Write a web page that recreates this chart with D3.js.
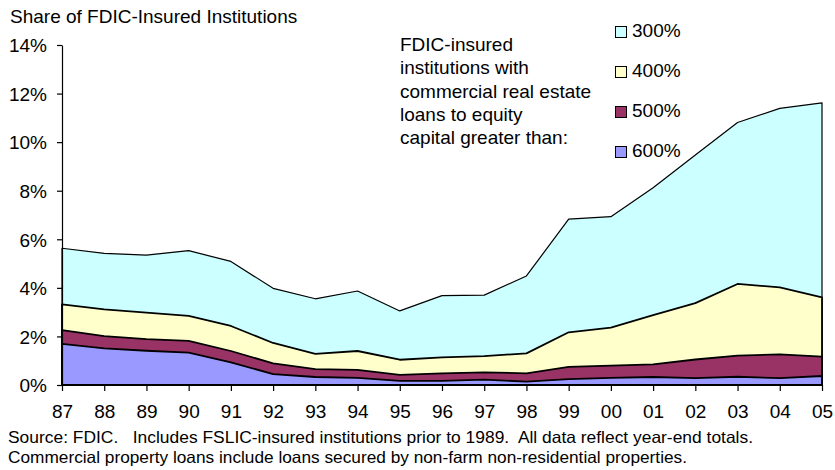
<!DOCTYPE html>
<html>
<head>
<meta charset="utf-8">
<script src="https://cdn.jsdelivr.net/npm/d3@7"></script>
<style>
  body { margin: 0; background: #fff; }
  svg text { font-family: "Liberation Sans", Arial, sans-serif; fill: #000; }
</style>
</head>
<body>
<div id="chart"></div>
<script>
const years = ['87', '88', '89', '90', '91', '92', '93', '94', '95', '96', '97', '98', '99', '00', '01', '02', '03', '04', '05'];
// share of institutions (%) with CRE loans / equity above each threshold
const over300 = [5.63, 5.42, 5.35, 5.53, 5.09, 3.98, 3.55, 3.87, 3.05, 3.68, 3.70, 4.49, 6.83, 6.93, 8.12, 9.47, 10.81, 11.39, 11.62];
const over400 = [3.32, 3.11, 2.98, 2.85, 2.43, 1.73, 1.28, 1.40, 1.04, 1.14, 1.19, 1.30, 2.17, 2.36, 2.88, 3.37, 4.16, 4.02, 3.61];
const over500 = [2.26, 2.01, 1.89, 1.82, 1.40, 0.89, 0.65, 0.62, 0.42, 0.48, 0.52, 0.48, 0.75, 0.80, 0.85, 1.05, 1.21, 1.26, 1.17];
const over600 = [1.69, 1.51, 1.41, 1.33, 0.93, 0.45, 0.33, 0.29, 0.17, 0.17, 0.22, 0.14, 0.24, 0.29, 0.33, 0.28, 0.34, 0.28, 0.37];
const yTicks = [0, 2, 4, 6, 8, 10, 12, 14];
const seriesNames = ['300%', '400%', '500%', '600%'];
const noteLines = [
  'FDIC-insured',
  'institutions with',
  'commercial real estate',
  'loans to equity',
  'capital greater than:'
];
const sourceLines = [
  'Source: FDIC.   Includes FSLIC-insured institutions prior to 1989.  All data reflect year-end totals.',
  'Commercial property loans include loans secured by non-farm non-residential properties.'
];

const series = [
  {name: seriesNames[0], values: over300, fill: '#ccffff', sw: 1.2},
  {name: seriesNames[1], values: over400, fill: '#ffffcc', sw: 1.8},
  {name: seriesNames[2], values: over500, fill: '#993366', sw: 1.8},
  {name: seriesNames[3], values: over600, fill: '#9999ff', sw: 1.8}
];

const W = 835, H = 470;
const svg = d3.select('#chart').append('svg')
  .attr('width', W)
  .attr('height', H);

const x = d3.scalePoint()
  .domain(years)
  .range([62, 822]);

const y = d3.scaleLinear()
  .domain([0, 14])
  .range([385, 45]);

// areas, largest first so the smaller ones sit on top
const area = d3.area()
  .x((d, i) => x(years[i]))
  .y0(y(0))
  .y1(d => y(d));

svg.selectAll('path.area')
  .data(series)
  .join('path')
  .attr('class', 'area')
  .attr('d', d => area(d.values))
  .attr('fill', d => d.fill)
  .attr('stroke', '#000')
  .attr('stroke-width', d => d.sw)
  .attr('stroke-linejoin', 'round');

// y axis
const yAxis = svg.append('g')
  .attr('transform', `translate(${x.range()[0]},0)`)
  .call(d3.axisLeft(y)
    .tickValues(yTicks)
    .tickFormat(d => d + '%')
    .tickSizeInner(5)
    .tickSizeOuter(0)
    .tickPadding(10));
yAxis.selectAll('text')
  .style('font-size', '19px')
  .attr('dy', '0.36em');

// x axis
const xAxis = svg.append('g')
  .attr('transform', `translate(0,${y(0)})`)
  .call(d3.axisBottom(x)
    .tickSizeInner(6)
    .tickSizeOuter(0)
    .tickPadding(14));
xAxis.selectAll('text')
  .style('font-size', '19px');
svg.selectAll('.domain, .tick line')
  .attr('stroke', '#000')
  .attr('stroke-width', 1.2);

// title
svg.append('text')
  .attr('x', 10)
  .attr('y', 23)
  .style('font-size', '19px')
  .text('Share of FDIC-Insured Institutions');

// note block
svg.append('g')
  .selectAll('text')
  .data(noteLines)
  .join('text')
  .attr('x', 400)
  .attr('y', (d, i) => 51 + i * 23.3)
  .style('font-size', '19px')
  .text(d => d);

// legend
const legend = svg.append('g')
  .selectAll('g')
  .data(series)
  .join('g')
  .attr('transform', (d, i) => `translate(615,${37 + i * 40})`);
legend.append('rect')
  .attr('x', 0.5)
  .attr('y', -10.5)
  .attr('width', 11)
  .attr('height', 11)
  .attr('fill', d => d.fill)
  .attr('stroke', '#000')
  .attr('stroke-width', 1);
legend.append('text')
  .attr('x', 17)
  .attr('y', 0)
  .style('font-size', '19px')
  .text(d => d.name);

// source notes
const srcLengths = [745, 679];
svg.append('g')
  .selectAll('text')
  .data(sourceLines)
  .join('text')
  .attr('x', 8)
  .attr('y', (d, i) => 443 + i * 20)
  .attr('textLength', (d, i) => srcLengths[i])
  .attr('lengthAdjust', 'spacingAndGlyphs')
  .style('font-size', '16.5px')
  .style('white-space', 'pre')
  .text(d => d);
</script>
</body>
</html>
